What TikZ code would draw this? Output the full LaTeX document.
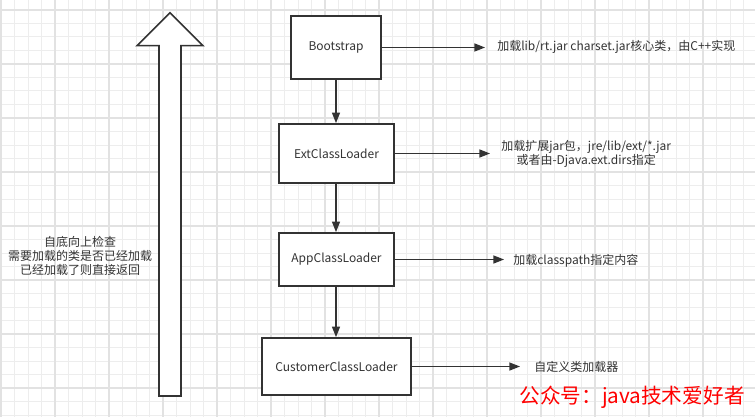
\documentclass[tikz,border=0pt]{standalone}
\usepackage{fontspec}
\setmainfont{Noto Sans CJK SC}
\usetikzlibrary{arrows.meta}
\definecolor{ink}{HTML}{333333}
\definecolor{gridc}{HTML}{EDEDED}
\definecolor{gridm}{HTML}{E2E2E2}
\begin{document}
\begin{tikzpicture}[x=0.75pt,y=-0.75pt,
  font=\fontsize{9}{10.5}\selectfont,
  box/.style={draw=ink,line width=1.2pt,fill=white,text=ink,inner sep=0pt},
  lbl/.style={text=ink,inner sep=0pt,anchor=west,align=center},
  conn/.style={draw=ink,line width=1.1pt,-{Triangle[length=8pt,width=6pt]}}]
\useasboundingbox (0,0) rectangle (755,417);
\fill[white] (0,0) rectangle (755,417);
% grid
\foreach \i in {0,...,55} {
  \draw[gridc,line width=0.75pt] ({1+13.5*\i},0) -- ({1+13.5*\i},417);
}
\foreach \j in {-1,...,30} {
  \draw[gridc,line width=0.75pt] (0,{10+13.5*\j}) -- (755,{10+13.5*\j});
}
\foreach \i in {0,...,13} {
  \draw[gridm,line width=0.8pt] ({1+54*\i},0) -- ({1+54*\i},417);
}
\foreach \j in {0,...,7} {
  \draw[gridm,line width=0.8pt] (0,{10+54*\j}) -- (755,{10+54*\j});
}
% big upward arrow
\draw[ink,line width=1.2pt,fill=white,line join=miter]
  (159,396) -- (159,45.7) -- (137,45.7) -- (170,12.7) -- (203,45.7) -- (181,45.7) -- (181,396) -- cycle;
\node[text=ink,align=center] (note) at (80,256) {自底向上检查\\需要加载的类是否已经加载\\已经加载了则直接返回};
% boxes
\node[box,minimum width=67.5pt,minimum height=47.25pt] (boot) at (336,47.5) {Bootstrap};
\node[box,minimum width=86.25pt,minimum height=44.25pt] (ext) at (336.5,153.5) {ExtClassLoader};
\node[box,minimum width=86.25pt,minimum height=39.75pt] (app) at (336.5,259.5) {AppClassLoader};
\node[box,minimum width=111.75pt,minimum height=42.75pt] (cust) at (336.5,366.5) {CustomerClassLoader};
% vertical arrows
\draw[conn] (boot.south -| 336,0) -- (ext.north -| 336,0);
\draw[conn] (ext.south -| 336,0) -- (app.north -| 336,0);
\draw[conn] (app.south -| 336,0) -- (cust.north -| 336,0);
% labels
\node[lbl] (lboot) at (497,47) {加载lib/rt.jar charset.jar核心类，由C++实现};
\node[lbl] (lext) at (501,154) {加载扩展jar包，jre/lib/ext/*.jar\\或者由-Djava.ext.dirs指定};
\node[lbl] (lapp) at (513,261) {加载classpath指定内容};
\node[lbl] (lcust) at (534,367) {自定义类加载器};
\draw[conn,shorten >=9pt] (boot.east) -- (boot.east -| lboot.west);
\draw[conn,shorten >=8.25pt] (ext.east) -- (ext.east -| lext.west);
\draw[conn,shorten >=6.75pt] (app.east) -- (app.east -| lapp.west);
\draw[conn,shorten >=10.5pt] (cust.east) -- (cust.east -| lcust.west);
% watermark
\node[text=red,inner sep=0pt,font=\fontsize{15.5}{16}\selectfont] (wm) at (632,397) {公众号：java技术爱好者};
\end{tikzpicture}
\end{document}
